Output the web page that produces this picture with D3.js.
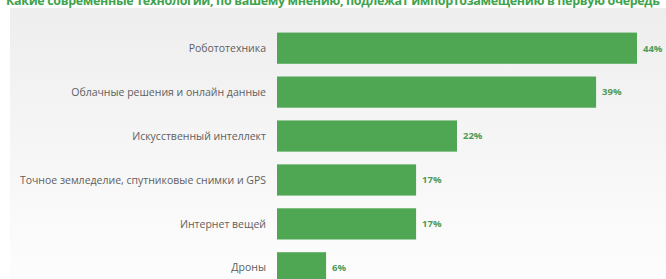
<!DOCTYPE html>
<html>
<head>
<meta charset="utf-8">
<script src="https://cdn.jsdelivr.net/npm/d3@7"></script>
<style>
  body { margin: 0; background: #fff; }
  svg { display: block; }
</style>
</head>
<body>
<svg id="chart" width="666" height="279"></svg>
<script>
const title = "Какие современные технологии, по вашему мнению, подлежат импортозамещению в первую очередь";
const categories = [
  "Робототехника",
  "Облачные решения и онлайн данные",
  "Искусственный интеллект",
  "Точное земледелие, спутниковые снимки и GPS",
  "Интернет вещей",
  "Дроны"
];
const values = [44, 39, 22, 17, 17, 6];

const svg = d3.select("#chart");
const W = 666, H = 279;

// background panel, grey fading to white
const defs = svg.append("defs");
const grad = defs.append("linearGradient")
  .attr("id", "bg").attr("x1", 0).attr("y1", 0).attr("x2", 0).attr("y2", 1);
grad.append("stop").attr("offset", "0%").attr("stop-color", "#eeeeee");
grad.append("stop").attr("offset", "100%").attr("stop-color", "#fdfdfd");

svg.append("rect")
  .attr("x", 10).attr("y", 8)
  .attr("width", W - 10).attr("height", H - 8)
  .attr("fill", "url(#bg)");

// title, partly cut off at the top edge like in the source image
svg.append("text")
  .attr("x", 6).attr("y", 5)
  .attr("font-family", "Open Sans, sans-serif")
  .attr("font-weight", 700)
  .attr("font-size", 12.5)
  .attr("fill", "#3fa34d")
  .attr("textLength", 654)
  .text(title);

const x = d3.scaleLinear().domain([0, 44]).range([277, 637]);
const y = d3.scaleBand().domain(categories).range([26, 290]).paddingInner(0.29).paddingOuter(0.15);

svg.selectAll("rect.bar")
  .data(values)
  .join("rect")
  .attr("class", "bar")
  .attr("x", x(0))
  .attr("y", (d, i) => y(categories[i]))
  .attr("width", d => x(d) - x(0))
  .attr("height", y.bandwidth())
  .attr("fill", "#4fa653");

svg.selectAll("text.cat")
  .data(categories)
  .join("text")
  .attr("class", "cat")
  .attr("x", 266)
  .attr("y", d => y(d) + y.bandwidth() / 2)
  .attr("dy", "0.35em")
  .attr("text-anchor", "end")
  .attr("font-family", "Open Sans, sans-serif")
  .attr("font-size", 10.5)
  .attr("fill", "#606060")
  .text(d => d);

svg.selectAll("text.val")
  .data(values)
  .join("text")
  .attr("class", "val")
  .attr("x", d => x(d) + 6)
  .attr("y", (d, i) => y(categories[i]) + y.bandwidth() / 2)
  .attr("dy", "0.35em")
  .attr("font-family", "Open Sans, sans-serif")
  .attr("font-weight", 700)
  .attr("font-size", 9.5)
  .attr("fill", "#4e9a56")
  .text(d => d + "%");
</script>
</body>
</html>
